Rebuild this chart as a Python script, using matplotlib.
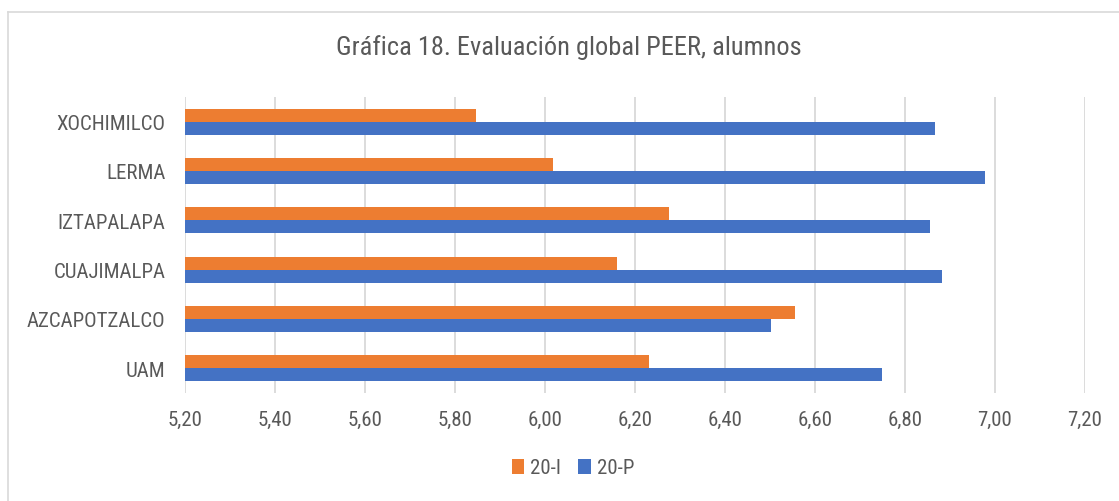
import numpy as np
import matplotlib
matplotlib.use("Agg")
import matplotlib.pyplot as plt
from matplotlib.lines import Line2D
from matplotlib.ticker import FuncFormatter, MultipleLocator

plt.rcParams['font.family'] = ['Roboto Condensed', 'Archivo Narrow', 'DejaVu Sans']

# data (bottom to top)
categories = ["UAM", "AZCAPOTZALCO", "CUAJIMALPA", "IZTAPALAPA", "LERMA", "XOCHIMILCO"]
serie_20I = [6.232, 6.556, 6.160, 6.275, 6.017, 5.847]
serie_20P = [6.748, 6.503, 6.882, 6.855, 6.978, 6.867]
series_names = ["20-I", "20-P"]
title = "Gráfica 18. Evaluación global PEER, alumnos"

orange = "#ED7D31"
blue = "#4472C4"
txt = "#595959"
grid = "#D9D9D9"

W, H = 1119, 502
fig = plt.figure(figsize=(W / 100, H / 100), dpi=100)
ax = fig.add_axes([185 / W, 1 - 394 / H, (1085 - 185) / W, (394 - 98) / H])

y = np.arange(len(categories))
h = 0.265
ax.barh(y + h / 2, np.array(serie_20I) - 5.2, left=5.2, height=h, color=orange, label=series_names[0], zorder=3)
ax.barh(y - h / 2, np.array(serie_20P) - 5.2, left=5.2, height=h, color=blue, label=series_names[1], zorder=3)

ax.set_xlim(5.2, 7.2)
ax.set_ylim(-0.5, len(categories) - 0.5)
ax.xaxis.set_major_locator(MultipleLocator(0.2))
ax.xaxis.set_major_formatter(FuncFormatter(lambda v, p: f"{v:.2f}".replace(".", ",")))
ax.set_yticks(y)
ax.set_yticklabels(categories)
ax.grid(axis="x", color=grid, linewidth=1.3, zorder=0)
ax.tick_params(length=0, labelsize=15, colors=txt)
ax.tick_params(axis="x", pad=12)
ax.tick_params(axis="y", pad=14)
for s in ax.spines.values():
    s.set_visible(False)

fig.text(569 / W, 1 - 48 / H, title, ha="center", va="center", fontsize=19, color=txt)

leg = fig.legend(loc="center", bbox_to_anchor=(573 / W, 1 - 469 / H), ncol=2, frameon=False,
                 fontsize=15, handlelength=0.6, handleheight=0.7, handletextpad=0.3,
                 columnspacing=0.8, labelcolor=txt)

# chart frame (only top and left edges show in the crop)
fig.add_artist(Line2D([7.5 / W, 1], [1 - 13 / H, 1 - 13 / H], transform=fig.transFigure, color=grid, lw=1.2))
fig.add_artist(Line2D([7.5 / W, 7.5 / W], [0, 1 - 13 / H], transform=fig.transFigure, color=grid, lw=1.2))

fig.savefig("out.png", dpi=100)
